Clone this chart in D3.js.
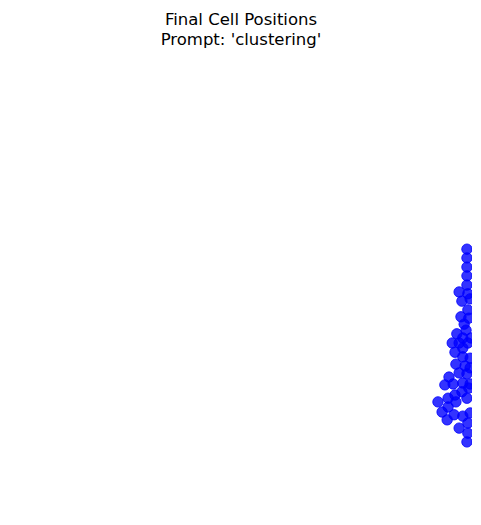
<!DOCTYPE html>
<html>
<head>
<meta charset="utf-8">
<script src="https://cdn.jsdelivr.net/npm/d3@7"></script>
<style>
  html, body { margin: 0; padding: 0; background: #fff; }
  svg { display: block; }
</style>
</head>
<body>
<script>
const titleLines = ["Final Cell Positions", "Prompt: 'clustering'"];
const xDomain = [0, 100];
const yDomain = [0, 100];
const cellX = [98.9, 98.9, 98.9, 98.9, 98.9, 97.2, 99.1, 97.8, 99.6, 99.1,
               97.6, 99.3, 98.3, 98.7, 96.7, 98.0, 99.8, 95.7, 97.2, 99.1,
               98.0, 96.3, 98.0, 99.6, 96.5, 98.5, 99.6, 97.2, 98.9, 95.0,
               94.1, 95.9, 98.0, 99.6, 99.3, 97.8, 96.3, 94.8, 98.9, 96.5,
               92.6, 94.8, 93.5, 96.1, 98.0, 99.6, 94.6, 99.1, 97.2, 99.1,
               98.9];
const cellY = [56.7, 54.8, 52.8, 50.9, 48.9, 47.4, 47.0, 45.4, 45.9, 43.5,
               42.0, 41.7, 40.4, 39.1, 38.3, 37.4, 37.4, 36.3, 36.3, 36.3,
               35.2, 34.3, 33.3, 33.0, 31.7, 31.3, 30.9, 29.8, 29.6, 28.9,
               27.2, 27.4, 27.6, 27.4, 26.5, 25.7, 25.0, 24.3, 24.3, 23.5,
               23.5, 22.4, 21.3, 20.7, 20.4, 21.1, 19.6, 18.9, 17.8, 16.7,
               14.8];

const W = 481, H = 525;
const plot = { left: 12, right: 472, top: 50, bottom: 510 };

const svg = d3.select("body").append("svg")
  .attr("width", W).attr("height", H);

const x = d3.scaleLinear().domain(xDomain).range([plot.left, plot.right]);
const y = d3.scaleLinear().domain(yDomain).range([plot.bottom, plot.top]);

svg.append("defs").append("clipPath").attr("id", "clip")
  .append("rect")
  .attr("x", plot.left).attr("y", plot.top)
  .attr("width", plot.right - plot.left).attr("height", plot.bottom - plot.top);

const title = svg.append("g")
  .attr("font-family", "DejaVu Sans, sans-serif")
  .attr("font-size", "16.5px")
  .attr("fill", "#000")
  .attr("text-anchor", "middle");
title.selectAll("text").data(titleLines).join("text")
  .attr("x", (plot.left + plot.right) / 2 - 1)
  .attr("y", (d, i) => 24.5 + i * 20.5)
  .text(d => d);

const cells = cellX.map((v, i) => ({ x: v, y: cellY[i] }));

svg.append("g").attr("clip-path", "url(#clip)")
  .selectAll("circle").data(cells).join("circle")
  .attr("cx", d => x(d.x))
  .attr("cy", d => y(d.y))
  .attr("r", 5.2)
  .attr("fill", "blue")
  .attr("fill-opacity", 0.8)
  .attr("stroke", "blue")
  .attr("stroke-opacity", 0.8)
  .attr("stroke-width", 1);
</script>
</body>
</html>
